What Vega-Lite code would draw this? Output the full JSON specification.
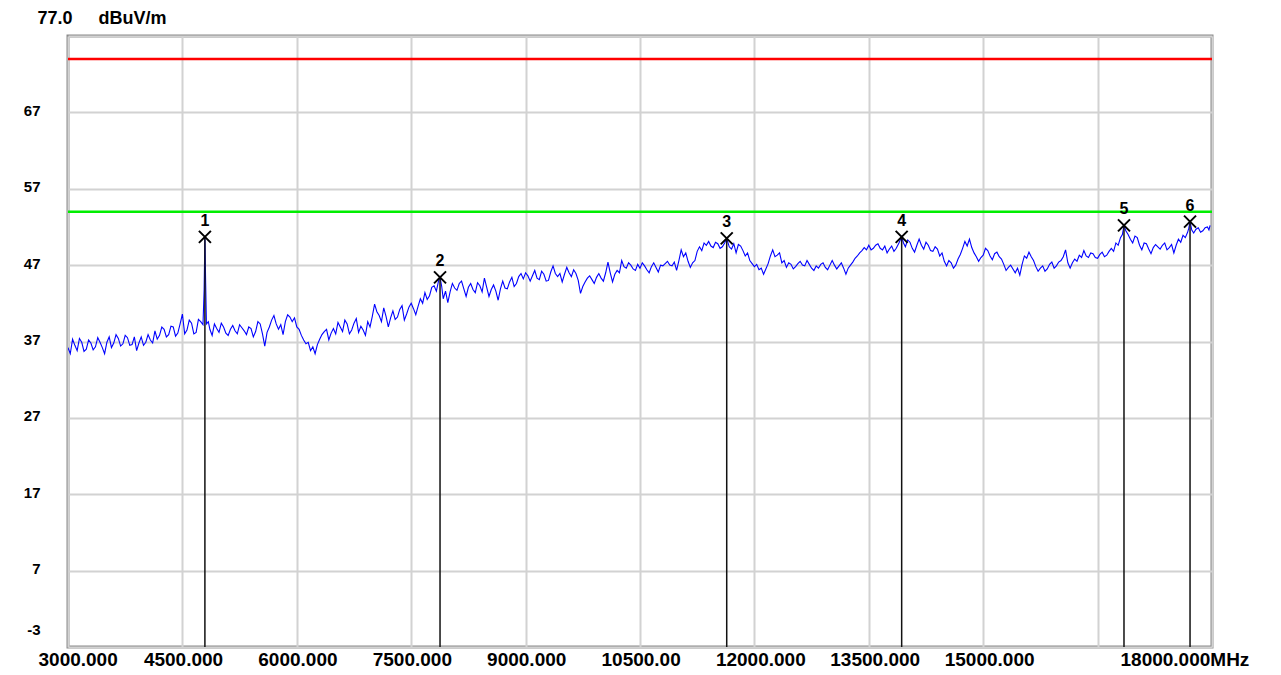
{
  "$schema": "https://vega.github.io/schema/vega-lite/v6.json",
  "width": 1144,
  "height": 611,
  "autosize": {"type": "none"},
  "padding": {"left": 68, "top": 36, "right": 69, "bottom": 28},
  "background": "white",
  "config": {"view": {"stroke": "#8a8a8a", "strokeWidth": 3}, "font": "Liberation Sans"},
  "datasets": {
    "trace": [
      {"f":3000,"v":36.2},{"f":3030,"v":35.4},{"f":3060,"v":37.3},{"f":3090,"v":36.5},{"f":3120,"v":35.8},{"f":3150,"v":37.4},{"f":3180,"v":36.9},{"f":3210,"v":35.7},{"f":3240,"v":36.0},{"f":3270,"v":37.2},
      {"f":3300,"v":36.8},{"f":3330,"v":35.9},{"f":3360,"v":36.3},{"f":3390,"v":37.5},{"f":3420,"v":36.9},{"f":3450,"v":36.2},{"f":3480,"v":35.4},{"f":3510,"v":36.9},{"f":3540,"v":37.6},{"f":3570,"v":36.2},
      {"f":3600,"v":36.8},{"f":3630,"v":37.9},{"f":3660,"v":37.4},{"f":3690,"v":36.4},{"f":3720,"v":36.7},{"f":3750,"v":37.8},{"f":3780,"v":37.5},{"f":3810,"v":36.5},{"f":3840,"v":36.6},{"f":3870,"v":37.6},
      {"f":3900,"v":35.8},{"f":3930,"v":36.8},{"f":3960,"v":37.6},{"f":3990,"v":36.5},{"f":4020,"v":36.9},{"f":4050,"v":37.9},{"f":4080,"v":37.2},{"f":4110,"v":36.8},{"f":4140,"v":38.4},{"f":4170,"v":37.3},
      {"f":4200,"v":37.8},{"f":4230,"v":38.9},{"f":4260,"v":38.6},{"f":4290,"v":37.6},{"f":4320,"v":37.9},{"f":4350,"v":39.0},{"f":4380,"v":38.9},{"f":4410,"v":37.7},{"f":4440,"v":38.1},{"f":4470,"v":39.3},
      {"f":4500,"v":40.6},{"f":4530,"v":38.0},{"f":4560,"v":38.5},{"f":4590,"v":39.8},{"f":4620,"v":39.4},{"f":4650,"v":38.0},{"f":4680,"v":38.2},{"f":4710,"v":39.9},{"f":4740,"v":39.6},{"f":4770,"v":39.2},
      {"f":4785,"v":43.8},{"f":4795,"v":50.7},{"f":4805,"v":44.6},{"f":4815,"v":39.3},{"f":4840,"v":39.6},{"f":4860,"v":38.6},{"f":4890,"v":37.8},{"f":4920,"v":39.3},{"f":4950,"v":38.7},{"f":4980,"v":38.2},
      {"f":5010,"v":39.4},{"f":5040,"v":38.9},{"f":5070,"v":38.1},{"f":5100,"v":37.8},{"f":5130,"v":38.6},{"f":5160,"v":39.1},{"f":5190,"v":38.4},{"f":5220,"v":38.0},{"f":5250,"v":39.2},{"f":5280,"v":38.8},
      {"f":5310,"v":38.4},{"f":5340,"v":37.9},{"f":5370,"v":38.9},{"f":5400,"v":38.7},{"f":5430,"v":37.6},{"f":5460,"v":38.3},{"f":5490,"v":39.6},{"f":5520,"v":39.3},{"f":5550,"v":38.0},{"f":5580,"v":36.4},
      {"f":5610,"v":38.2},{"f":5640,"v":38.9},{"f":5670,"v":39.8},{"f":5700,"v":40.4},{"f":5730,"v":39.3},{"f":5760,"v":38.6},{"f":5790,"v":39.2},{"f":5820,"v":37.9},{"f":5850,"v":39.6},{"f":5880,"v":40.5},
      {"f":5910,"v":40.2},{"f":5940,"v":39.6},{"f":5970,"v":40.1},{"f":6000,"v":38.9},{"f":6030,"v":38.6},{"f":6060,"v":37.8},{"f":6090,"v":37.2},{"f":6120,"v":36.7},{"f":6150,"v":36.9},{"f":6180,"v":35.8},
      {"f":6210,"v":36.3},{"f":6240,"v":35.4},{"f":6270,"v":36.6},{"f":6300,"v":37.3},{"f":6330,"v":37.9},{"f":6360,"v":38.3},{"f":6390,"v":38.6},{"f":6420,"v":37.2},{"f":6450,"v":38.1},{"f":6480,"v":38.7},
      {"f":6510,"v":38.0},{"f":6540,"v":39.5},{"f":6570,"v":38.9},{"f":6600,"v":38.3},{"f":6630,"v":39.8},{"f":6660,"v":39.3},{"f":6690,"v":38.0},{"f":6720,"v":38.5},{"f":6750,"v":39.4},{"f":6780,"v":40.0},
      {"f":6810,"v":38.2},{"f":6840,"v":39.0},{"f":6870,"v":38.5},{"f":6900,"v":37.8},{"f":6930,"v":39.6},{"f":6960,"v":38.9},{"f":6990,"v":40.3},{"f":7020,"v":41.9},{"f":7050,"v":40.9},{"f":7080,"v":40.4},
      {"f":7110,"v":39.6},{"f":7140,"v":41.4},{"f":7170,"v":40.3},{"f":7200,"v":38.9},{"f":7230,"v":40.1},{"f":7260,"v":41.0},{"f":7290,"v":39.9},{"f":7320,"v":40.2},{"f":7350,"v":41.2},{"f":7380,"v":41.7},
      {"f":7410,"v":39.8},{"f":7440,"v":40.6},{"f":7470,"v":41.5},{"f":7500,"v":42.0},{"f":7530,"v":41.3},{"f":7560,"v":40.5},{"f":7590,"v":41.6},{"f":7620,"v":42.6},{"f":7650,"v":42.0},{"f":7680,"v":43.4},
      {"f":7710,"v":42.5},{"f":7740,"v":43.0},{"f":7770,"v":44.1},{"f":7800,"v":44.3},{"f":7830,"v":43.6},{"f":7860,"v":45.0},{"f":7878,"v":45.4},{"f":7900,"v":44.2},{"f":7920,"v":42.6},{"f":7950,"v":43.6},
      {"f":7980,"v":42.1},{"f":8010,"v":43.5},{"f":8040,"v":44.6},{"f":8070,"v":44.0},{"f":8100,"v":43.7},{"f":8130,"v":44.6},{"f":8160,"v":44.9},{"f":8190,"v":43.9},{"f":8220,"v":42.9},{"f":8250,"v":44.1},
      {"f":8280,"v":44.6},{"f":8310,"v":43.8},{"f":8340,"v":43.4},{"f":8370,"v":44.7},{"f":8400,"v":44.3},{"f":8430,"v":43.5},{"f":8460,"v":45.3},{"f":8490,"v":44.1},{"f":8520,"v":42.9},{"f":8550,"v":43.8},
      {"f":8580,"v":44.4},{"f":8610,"v":43.6},{"f":8640,"v":42.4},{"f":8670,"v":43.9},{"f":8700,"v":44.9},{"f":8730,"v":44.0},{"f":8760,"v":43.9},{"f":8790,"v":44.8},{"f":8820,"v":45.4},{"f":8850,"v":44.2},
      {"f":8880,"v":44.6},{"f":8910,"v":45.5},{"f":8940,"v":45.9},{"f":8970,"v":45.2},{"f":9000,"v":46.0},{"f":9030,"v":45.6},{"f":9060,"v":44.9},{"f":9090,"v":45.6},{"f":9120,"v":46.3},{"f":9150,"v":45.3},
      {"f":9180,"v":45.1},{"f":9210,"v":46.2},{"f":9240,"v":45.8},{"f":9270,"v":44.9},{"f":9300,"v":45.0},{"f":9330,"v":46.1},{"f":9360,"v":46.9},{"f":9390,"v":45.9},{"f":9420,"v":45.5},{"f":9450,"v":45.9},
      {"f":9480,"v":44.8},{"f":9510,"v":45.8},{"f":9540,"v":46.7},{"f":9570,"v":46.0},{"f":9600,"v":45.5},{"f":9630,"v":46.4},{"f":9660,"v":45.9},{"f":9690,"v":45.0},{"f":9720,"v":43.3},{"f":9750,"v":44.2},
      {"f":9780,"v":44.8},{"f":9810,"v":45.3},{"f":9840,"v":45.6},{"f":9870,"v":45.1},{"f":9900,"v":44.6},{"f":9930,"v":45.4},{"f":9960,"v":45.9},{"f":9990,"v":45.3},{"f":10020,"v":44.9},{"f":10050,"v":46.0},
      {"f":10080,"v":47.4},{"f":10110,"v":46.0},{"f":10140,"v":44.8},{"f":10170,"v":45.8},{"f":10200,"v":46.3},{"f":10230,"v":46.0},{"f":10260,"v":47.6},{"f":10290,"v":46.8},{"f":10320,"v":46.6},{"f":10350,"v":47.3},
      {"f":10380,"v":47.0},{"f":10410,"v":46.5},{"f":10440,"v":46.3},{"f":10470,"v":47.1},{"f":10500,"v":46.6},{"f":10530,"v":47.3},{"f":10560,"v":46.9},{"f":10590,"v":46.4},{"f":10620,"v":46.0},{"f":10650,"v":46.8},
      {"f":10680,"v":47.3},{"f":10710,"v":46.7},{"f":10740,"v":46.1},{"f":10770,"v":47.0},{"f":10800,"v":46.9},{"f":10830,"v":47.2},{"f":10860,"v":47.5},{"f":10890,"v":47.0},{"f":10920,"v":46.9},{"f":10950,"v":47.4},
      {"f":10980,"v":46.3},{"f":11010,"v":47.6},{"f":11040,"v":49.0},{"f":11070,"v":48.1},{"f":11100,"v":48.6},{"f":11130,"v":47.5},{"f":11160,"v":46.7},{"f":11190,"v":47.3},{"f":11220,"v":47.6},{"f":11250,"v":48.8},
      {"f":11280,"v":49.4},{"f":11310,"v":48.9},{"f":11340,"v":49.9},{"f":11370,"v":49.6},{"f":11400,"v":50.1},{"f":11430,"v":49.5},{"f":11460,"v":49.3},{"f":11490,"v":50.0},{"f":11520,"v":49.8},{"f":11550,"v":49.2},
      {"f":11580,"v":49.4},{"f":11610,"v":49.9},{"f":11637,"v":50.5},{"f":11670,"v":49.4},{"f":11700,"v":49.1},{"f":11730,"v":49.8},{"f":11760,"v":48.6},{"f":11790,"v":49.7},{"f":11820,"v":49.5},{"f":11850,"v":48.9},
      {"f":11880,"v":48.2},{"f":11910,"v":48.6},{"f":11940,"v":47.6},{"f":11970,"v":47.2},{"f":12000,"v":46.8},{"f":12030,"v":47.1},{"f":12060,"v":46.4},{"f":12090,"v":46.6},{"f":12120,"v":45.8},{"f":12150,"v":46.5},
      {"f":12180,"v":47.2},{"f":12210,"v":48.2},{"f":12240,"v":49.0},{"f":12270,"v":48.1},{"f":12300,"v":48.3},{"f":12330,"v":48.6},{"f":12360,"v":47.3},{"f":12390,"v":47.6},{"f":12420,"v":46.7},{"f":12450,"v":47.3},
      {"f":12480,"v":47.1},{"f":12510,"v":46.5},{"f":12540,"v":46.8},{"f":12570,"v":47.2},{"f":12600,"v":47.5},{"f":12630,"v":47.0},{"f":12660,"v":46.9},{"f":12690,"v":47.6},{"f":12720,"v":47.1},{"f":12750,"v":46.6},
      {"f":12780,"v":46.3},{"f":12810,"v":46.9},{"f":12840,"v":46.6},{"f":12870,"v":47.1},{"f":12900,"v":47.3},{"f":12930,"v":46.7},{"f":12960,"v":46.4},{"f":12990,"v":47.0},{"f":13020,"v":47.6},{"f":13050,"v":47.0},
      {"f":13080,"v":46.5},{"f":13110,"v":46.9},{"f":13140,"v":47.3},{"f":13170,"v":46.6},{"f":13200,"v":45.8},{"f":13230,"v":46.6},{"f":13260,"v":47.0},{"f":13290,"v":47.4},{"f":13320,"v":47.9},{"f":13350,"v":48.2},
      {"f":13380,"v":48.6},{"f":13410,"v":48.9},{"f":13440,"v":49.3},{"f":13470,"v":49.0},{"f":13500,"v":49.6},{"f":13530,"v":49.0},{"f":13560,"v":49.2},{"f":13590,"v":49.6},{"f":13620,"v":49.8},{"f":13650,"v":49.2},
      {"f":13680,"v":49.0},{"f":13710,"v":49.5},{"f":13740,"v":48.6},{"f":13770,"v":49.1},{"f":13800,"v":49.5},{"f":13830,"v":48.8},{"f":13860,"v":49.2},{"f":13895,"v":49.9},{"f":13931,"v":50.7},{"f":13955,"v":49.9},
      {"f":13980,"v":49.4},{"f":14010,"v":50.3},{"f":14040,"v":50.0},{"f":14070,"v":49.2},{"f":14100,"v":48.7},{"f":14130,"v":49.6},{"f":14160,"v":50.4},{"f":14190,"v":49.6},{"f":14220,"v":49.1},{"f":14250,"v":50.0},
      {"f":14280,"v":49.6},{"f":14310,"v":48.9},{"f":14340,"v":48.8},{"f":14370,"v":49.4},{"f":14400,"v":49.1},{"f":14430,"v":48.2},{"f":14460,"v":48.6},{"f":14490,"v":47.5},{"f":14520,"v":46.9},{"f":14550,"v":47.6},
      {"f":14580,"v":47.3},{"f":14610,"v":46.6},{"f":14640,"v":47.0},{"f":14670,"v":47.8},{"f":14700,"v":48.4},{"f":14730,"v":49.2},{"f":14760,"v":50.1},{"f":14790,"v":49.5},{"f":14820,"v":50.4},{"f":14850,"v":49.3},
      {"f":14880,"v":48.6},{"f":14910,"v":48.1},{"f":14940,"v":47.5},{"f":14970,"v":48.0},{"f":15000,"v":48.3},{"f":15030,"v":49.2},{"f":15060,"v":48.9},{"f":15090,"v":48.2},{"f":15120,"v":47.7},{"f":15150,"v":48.5},
      {"f":15180,"v":48.7},{"f":15210,"v":48.1},{"f":15240,"v":47.8},{"f":15270,"v":47.1},{"f":15300,"v":46.3},{"f":15330,"v":46.7},{"f":15360,"v":47.0},{"f":15390,"v":46.5},{"f":15420,"v":46.0},{"f":15450,"v":46.6},
      {"f":15480,"v":45.7},{"f":15510,"v":47.1},{"f":15540,"v":48.2},{"f":15570,"v":47.9},{"f":15600,"v":48.7},{"f":15630,"v":48.1},{"f":15660,"v":47.6},{"f":15690,"v":46.8},{"f":15720,"v":46.2},{"f":15750,"v":46.6},
      {"f":15780,"v":46.9},{"f":15810,"v":46.2},{"f":15840,"v":46.5},{"f":15870,"v":47.1},{"f":15900,"v":47.4},{"f":15930,"v":46.6},{"f":15960,"v":46.9},{"f":15990,"v":47.4},{"f":16020,"v":47.6},{"f":16050,"v":48.1},
      {"f":16080,"v":49.0},{"f":16110,"v":47.3},{"f":16140,"v":46.6},{"f":16170,"v":47.3},{"f":16200,"v":47.8},{"f":16230,"v":47.5},{"f":16260,"v":48.3},{"f":16290,"v":48.0},{"f":16320,"v":48.9},{"f":16350,"v":48.2},
      {"f":16380,"v":48.0},{"f":16410,"v":48.6},{"f":16440,"v":48.5},{"f":16470,"v":48.0},{"f":16500,"v":47.9},{"f":16530,"v":48.4},{"f":16560,"v":48.7},{"f":16590,"v":48.1},{"f":16620,"v":48.3},{"f":16650,"v":48.8},
      {"f":16680,"v":49.2},{"f":16710,"v":48.8},{"f":16740,"v":49.9},{"f":16770,"v":49.6},{"f":16800,"v":50.6},{"f":16825,"v":51.0},{"f":16846,"v":52.2},{"f":16870,"v":51.5},{"f":16900,"v":51.0},{"f":16930,"v":50.4},
      {"f":16960,"v":49.9},{"f":16990,"v":50.8},{"f":17020,"v":50.6},{"f":17050,"v":49.6},{"f":17080,"v":49.0},{"f":17110,"v":49.9},{"f":17140,"v":49.8},{"f":17170,"v":49.1},{"f":17200,"v":48.5},{"f":17230,"v":49.3},
      {"f":17260,"v":49.7},{"f":17290,"v":49.4},{"f":17320,"v":49.1},{"f":17350,"v":49.6},{"f":17380,"v":49.9},{"f":17410,"v":49.0},{"f":17440,"v":49.3},{"f":17470,"v":49.7},{"f":17500,"v":48.6},{"f":17530,"v":49.6},
      {"f":17560,"v":50.4},{"f":17590,"v":50.0},{"f":17620,"v":50.9},{"f":17650,"v":50.6},{"f":17680,"v":51.3},{"f":17695,"v":51.8},{"f":17712,"v":52.7},{"f":17735,"v":51.6},{"f":17760,"v":51.2},{"f":17790,"v":51.7},
      {"f":17820,"v":51.9},{"f":17850,"v":51.3},{"f":17880,"v":51.5},{"f":17910,"v":51.9},{"f":17940,"v":52.0},{"f":17960,"v":51.6},{"f":17975,"v":52.2}
    ],
    "markers": [
      {"n":"1","f":4795,"v":50.7},
      {"n":"2","f":7878,"v":45.4},
      {"n":"3","f":11637,"v":50.5},
      {"n":"4","f":13931,"v":50.7},
      {"n":"5","f":16846,"v":52.2},
      {"n":"6","f":17712,"v":52.7}
    ],
    "peakLimit": [{"v":74}],
    "avgLimit": [{"v":54}]
  },
  "layer": [
    {
      "data": {"name": "trace"},
      "mark": {"type": "line", "color": "#0000ff", "strokeWidth": 1.1, "clip": true},
      "encoding": {
        "x": {
          "field": "f", "type": "quantitative",
          "scale": {"domain": [3000, 18000], "nice": false, "zero": false},
          "axis": {
            "title": null,
            "values": [3000,4500,6000,7500,9000,10500,12000,13500,15000,16500,18000],
            "grid": true, "gridColor": "#d2d2d2", "gridWidth": 2,
            "domain": false, "ticks": false,
            "labelExpr": "datum.value == 16500 ? '' : datum.value == 10500 ? '10500.00' : datum.value == 18000 ? '18000.000MHz' : format(datum.value, '.3f')",
            "labelFont": "Liberation Sans", "labelFontSize": 19, "labelFontWeight": "bold", "labelColor": "#000000",
            "labelAlign": "left", "labelBaseline": "top", "labelPadding": 3,
            "labelFlush": false, "labelOverlap": false, "labelBound": false,
            "labelOffset": {"condition": [{"test": "datum.value == 3000", "value": -30}, {"test": "datum.value == 18000", "value": -92}], "value": -39}
          }
        },
        "y": {
          "field": "v", "type": "quantitative",
          "scale": {"domain": [-3, 77], "nice": false, "zero": false},
          "axis": {
            "title": "dBuV/m", "titleAngle": 0, "titleAlign": "left", "titleBaseline": "middle",
            "titleX": 30, "titleY": -18, "titleFont": "Liberation Sans", "titleFontSize": 18, "titleFontWeight": "bold", "titleColor": "#000000",
            "values": [-3,7,17,27,37,47,57,67,77],
            "grid": true, "gridColor": "#d2d2d2", "gridWidth": 2,
            "domain": false, "ticks": false,
            "labelExpr": "datum.value == 77 ? '77.0' : '' + datum.value",
            "labelFont": "Liberation Sans", "labelFontWeight": "bold", "labelColor": "#000000",
            "labelAlign": "right", "labelBaseline": "middle",
            "labelOverlap": false, "labelBound": false, "labelFlush": false,
            "labelFontSize": {"condition": {"test": "datum.value == 77", "value": 18}, "value": 15},
            "labelPadding": {"condition": {"test": "datum.value == 77", "value": -4}, "value": 28},
            "labelOffset": {"condition": {"test": "datum.value == -3 || datum.value == 77", "value": -18}, "value": -2}
          }
        }
      }
    },
    {
      "data": {"name": "peakLimit"},
      "mark": {"type": "rule", "color": "#ff0000", "strokeWidth": 2.5},
      "encoding": {"y": {"field": "v", "type": "quantitative"}}
    },
    {
      "data": {"name": "avgLimit"},
      "mark": {"type": "rule", "color": "#00ee00", "strokeWidth": 2.5},
      "encoding": {"y": {"field": "v", "type": "quantitative"}}
    },
    {
      "data": {"name": "markers"},
      "mark": {"type": "rule", "color": "#111111", "strokeWidth": 1.5},
      "encoding": {
        "x": {"field": "f", "type": "quantitative"},
        "y": {"field": "v", "type": "quantitative"},
        "y2": {"datum": -3}
      }
    },
    {
      "data": {"name": "markers"},
      "mark": {"type": "point", "shape": "M-1,-1L1,1M-1,1L1,-1", "size": 144, "stroke": "#000000", "strokeWidth": 2, "filled": false, "opacity": 1},
      "encoding": {
        "x": {"field": "f", "type": "quantitative"},
        "y": {"field": "v", "type": "quantitative"}
      }
    },
    {
      "data": {"name": "markers"},
      "mark": {"type": "text", "dy": -16, "fontSize": 16, "fontWeight": "bold", "font": "Liberation Sans", "color": "#000000", "baseline": "middle"},
      "encoding": {
        "x": {"field": "f", "type": "quantitative"},
        "y": {"field": "v", "type": "quantitative"},
        "text": {"field": "n"}
      }
    }
  ]
}
